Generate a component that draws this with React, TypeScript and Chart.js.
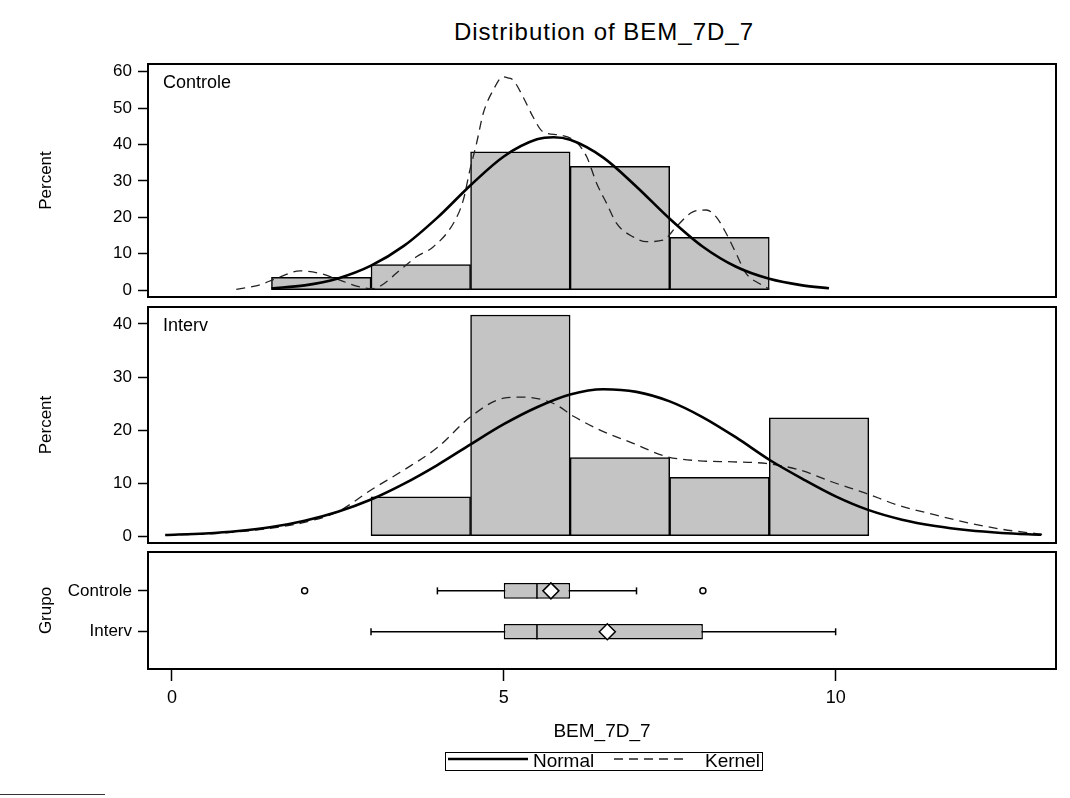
import { useEffect, useRef } from 'react';
import { Chart, registerables } from 'chart.js';

Chart.register(...registerables);

const FONT = "'Liberation Sans', Arial, sans-serif";
const FILL = '#c4c4c4';

// shared x axis (BEM_7D_7)
const X_MIN = -0.36;
const X_MAX = 13.32;
const X_TICKS = [0, 5, 10];

// Controle histogram: bin midpoints and percents
const CTRL_MID = [2.25, 3.75, 5.25, 6.75, 8.25];
const CTRL_PCT = [3.5, 7.0, 38.0, 34.0, 14.5];
const CTRL_TICKS = [0, 10, 20, 30, 40, 50, 60];

const CTRL_NORMAL_X = [1.5, 2.0, 2.5, 3.0, 3.5, 4.0, 4.5, 5.0, 5.5, 5.75, 6.0, 6.5, 7.0, 7.5, 8.0, 8.5, 9.0, 9.5, 9.9];
const CTRL_NORMAL_PCT = [0.5, 1.3, 3.2, 6.7, 12.2, 19.9, 28.8, 36.7, 41.4, 42.0, 41.3, 36.4, 28.4, 19.6, 11.9, 6.4, 3.1, 1.3, 0.5];

const CTRL_KERNEL_X = [0.97, 1.3, 1.6, 1.93, 2.25, 2.55, 2.8, 3.03, 3.2, 3.38, 3.69, 3.94, 4.24, 4.39, 4.49, 4.59, 4.69, 4.84, 4.99, 5.06, 5.14, 5.29, 5.44, 5.59, 5.84, 6.09, 6.25, 6.4, 6.55, 6.7, 6.95, 7.15, 7.4, 7.6, 7.85, 8.05, 8.2, 8.35, 8.5, 8.65, 8.85, 9.0];
const CTRL_KERNEL_PCT = [0.2, 1.3, 3.4, 5.3, 4.5, 2.6, 1.0, 0.4, 1.8, 4.6, 9.2, 11.9, 18.3, 24.7, 33.0, 40.3, 48.5, 54.9, 58.6, 58.3, 57.7, 53.1, 47.6, 43.5, 42.6, 40.7, 36.6, 29.3, 23.8, 18.3, 14.6, 13.3, 13.7, 17.4, 21.5, 22.0, 20.1, 15.6, 10.1, 4.6, 1.8, 0.3];

// Interv histogram
const INTERV_MID = [3.75, 5.25, 6.75, 8.25, 9.75];
const INTERV_PCT = [7.4, 41.7, 14.8, 11.1, 22.3];
const INTERV_TICKS = [0, 10, 20, 30, 40];

const INTERV_NORMAL_X = [-0.1, 0.5, 1.0, 1.5, 2.0, 2.5, 3.0, 3.5, 4.0, 4.5, 5.0, 5.5, 6.0, 6.5, 7.0, 7.5, 8.0, 8.5, 9.0, 9.5, 10.0, 10.5, 11.0, 11.5, 12.0, 12.5, 13.1];
const INTERV_NORMAL_PCT = [0.2, 0.5, 0.96, 1.7, 2.9, 4.6, 6.9, 9.9, 13.4, 17.3, 21.1, 24.3, 26.7, 27.7, 27.2, 25.4, 22.4, 18.6, 14.4, 10.8, 7.5, 4.9, 3.1, 1.9, 1.1, 0.6, 0.25];

const INTERV_KERNEL_X = [-0.1, 0.5, 1.0, 1.5, 2.0, 2.5, 3.0, 3.5, 4.0, 4.5, 5.0, 5.3, 5.75, 6.05, 6.45, 6.95, 7.45, 7.95, 8.45, 8.95, 9.45, 9.95, 10.45, 10.95, 11.5, 12.0, 12.5, 13.0, 13.2];
const INTERV_KERNEL_PCT = [0.2, 0.4, 0.8, 1.5, 2.6, 4.6, 8.7, 12.5, 16.7, 22.5, 26.0, 26.2, 25.0, 22.6, 20.0, 17.5, 15.0, 14.2, 14.0, 13.7, 12.5, 10.2, 8.1, 5.8, 4.0, 2.5, 1.3, 0.5, 0.2];

// box plot statistics per group
const GROUPS = ['Controle', 'Interv'];
const WHISK_LO = [4, 3];
const Q1 = [5, 5];
const MEDIAN = [5.5, 5.5];
const MEAN = [5.71, 6.56];
const Q3 = [6, 8];
const WHISK_HI = [7, 10];
const OUTLIER_X = [2, 8];
const OUTLIER_GROUP = [0, 0];

const pts = (xs: number[], ys: number[]) => xs.map((x, i) => ({ x, y: ys[i] }));

function frame(label?: string) {
  return {
    id: 'panelFrame',
    afterDatasetsDraw(chart: any) {
      const { ctx, chartArea: a } = chart;
      ctx.save();
      ctx.strokeStyle = '#000';
      ctx.lineWidth = 2;
      ctx.strokeRect(a.left, a.top, a.right - a.left, a.bottom - a.top);
      if (label) {
        ctx.fillStyle = '#000';
        ctx.font = `18px ${FONT}`;
        ctx.textBaseline = 'top';
        ctx.textAlign = 'left';
        ctx.fillText(label, a.left + 15, a.top + 10);
      }
      ctx.restore();
    },
  };
}

const setTicks = (values: number[]) => (s: any) => {
  s.ticks = values.map((v) => ({ value: v }));
};

const PAD_L = 32;
const AXIS_W = 148 - PAD_L;
const PAD_R = 14;

function yAxis(min: number, max: number, ticks: number[], title: string, extra: any = {}) {
  return {
    type: 'linear',
    min,
    max,
    offset: false,
    reverse: !!extra.reverse,
    afterBuildTicks: setTicks(ticks),
    afterFit: (s: any) => {
      s.width = AXIS_W;
    },
    grid: { offset: false, drawOnChartArea: false, drawTicks: true, tickLength: 10, tickWidth: 1.5, tickColor: '#000' },
    border: { display: false },
    ticks: { color: '#000', font: { family: FONT, size: 17 }, padding: 6, ...(extra.ticks || {}) },
    title: { display: true, text: title, color: '#000', font: { family: FONT, size: 17 } },
  };
}

function xAxis(visible: boolean) {
  return {
    type: 'linear',
    min: X_MIN,
    max: X_MAX,
    offset: false,
    display: visible,
    afterBuildTicks: setTicks(X_TICKS),
    afterFit: (s: any) => {
      s.height = visible ? 74 : 0;
    },
    grid: { drawOnChartArea: false, drawTicks: true, tickLength: 12, tickWidth: 1.5, tickColor: '#000', offset: false },
    border: { display: false },
    ticks: { color: '#000', font: { family: FONT, size: 18 }, padding: 6 },
    title: { display: true, text: 'BEM_7D_7', color: '#000', font: { family: FONT, size: 19 }, padding: { top: 0, bottom: 0 } },
  };
}

const baseOptions = (padTop: number, padBottom: number) => ({
  responsive: false,
  animation: false as const,
  events: [] as any[],
  layout: { padding: { left: PAD_L, right: PAD_R, top: padTop, bottom: padBottom } },
  plugins: { legend: { display: false }, tooltip: { enabled: false }, title: { display: false } },
});

function histPanel(canvas: HTMLCanvasElement, opts: any) {
  return new Chart(canvas, {
    type: 'bar',
    data: {
      datasets: [
        {
          type: 'line',
          data: pts(opts.normalX, opts.normalY),
          borderColor: '#000',
          borderWidth: 2.6,
          pointRadius: 0,
          cubicInterpolationMode: 'monotone',
          order: 0,
        },
        {
          type: 'line',
          data: pts(opts.kernelX, opts.kernelY),
          borderColor: '#222',
          borderWidth: 1.3,
          borderDash: [9, 6],
          pointRadius: 0,
          cubicInterpolationMode: 'monotone',
          order: 0,
        },
        {
          type: 'bar',
          data: pts(opts.mid, opts.pct),
          backgroundColor: FILL,
          borderColor: '#000',
          borderWidth: 1.5,
          borderSkipped: false,
          barPercentage: 1,
          categoryPercentage: 1,
          order: 1,
        },
      ],
    } as any,
    options: {
      ...baseOptions(opts.top, 798 - opts.bottom),
      scales: {
        x: xAxis(false),
        y: yAxis(opts.min, opts.max, opts.ticks, 'Percent'),
      },
    } as any,
    plugins: [frame(opts.label)],
  });
}

function boxPanel(canvas: HTMLCanvasElement) {
  const idx = GROUPS.map((_, i) => i);
  const ends = [
    ...idx.map((i) => ({ x: WHISK_LO[i], y: i })),
    ...idx.map((i) => ({ x: WHISK_HI[i], y: i })),
  ];
  return new Chart(canvas, {
    type: 'bar',
    data: {
      datasets: [
        ...idx.map((i) => ({
          type: 'line',
          data: [
            { x: WHISK_LO[i], y: i },
            { x: WHISK_HI[i], y: i },
          ],
          borderColor: '#000',
          borderWidth: 1.5,
          pointRadius: 0,
          order: 3,
        })),
        {
          type: 'bar',
          indexAxis: 'y',
          data: idx.map((i) => ({ y: i, x: [Q1[i], Q3[i]] })),
          backgroundColor: FILL,
          borderColor: '#000',
          borderWidth: 1.5,
          borderSkipped: false,
          barPercentage: 0.383,
          categoryPercentage: 1,
          order: 2,
        },
        {
          type: 'line',
          showLine: false,
          data: idx.map((i) => ({ x: MEDIAN[i], y: i })),
          pointStyle: 'line',
          pointRotation: 90,
          pointRadius: 7.8,
          pointBorderColor: '#000',
          pointBorderWidth: 1.5,
          order: 1,
        },
        {
          type: 'line',
          showLine: false,
          data: ends,
          pointStyle: 'line',
          pointRotation: 90,
          pointRadius: 3.5,
          pointBorderColor: '#000',
          pointBorderWidth: 1.5,
          order: 1,
        },
        {
          type: 'line',
          showLine: false,
          data: idx.map((i) => ({ x: MEAN[i], y: i })),
          pointStyle: 'rectRot',
          pointRadius: 8,
          pointBackgroundColor: '#fff',
          pointBorderColor: '#000',
          pointBorderWidth: 1.5,
          order: 0,
        },
        {
          type: 'line',
          showLine: false,
          data: OUTLIER_X.map((x, i) => ({ x, y: OUTLIER_GROUP[i] })),
          pointStyle: 'circle',
          pointRadius: 3,
          pointBackgroundColor: '#fff',
          pointBorderColor: '#000',
          pointBorderWidth: 1.5,
          order: 0,
        },
      ],
    } as any,
    options: {
      ...baseOptions(552, 55),
      scales: {
        x: xAxis(true),
        y: yAxis(-0.95, 1.91, idx, 'Grupo', {
          reverse: true,
          ticks: { callback: (v: number) => GROUPS[v] ?? '' },
        }),
      },
    } as any,
    plugins: [frame()],
  });
}

const canvasStyle: any = { position: 'absolute', left: 0, top: 0 };

export default function App() {
  const topRef = useRef<HTMLCanvasElement>(null);
  const midRef = useRef<HTMLCanvasElement>(null);
  const boxRef = useRef<HTMLCanvasElement>(null);

  useEffect(() => {
    const charts = [
      histPanel(topRef.current!, {
        label: 'Controle',
        mid: CTRL_MID,
        pct: CTRL_PCT,
        normalX: CTRL_NORMAL_X,
        normalY: CTRL_NORMAL_PCT,
        kernelX: CTRL_KERNEL_X,
        kernelY: CTRL_KERNEL_PCT,
        min: -1.9,
        max: 62.1,
        ticks: CTRL_TICKS,
        top: 64,
        bottom: 297,
      }),
      histPanel(midRef.current!, {
        label: 'Interv',
        mid: INTERV_MID,
        pct: INTERV_PCT,
        normalX: INTERV_NORMAL_X,
        normalY: INTERV_NORMAL_PCT,
        kernelX: INTERV_KERNEL_X,
        kernelY: INTERV_KERNEL_PCT,
        min: -1.3,
        max: 43.2,
        ticks: INTERV_TICKS,
        top: 307,
        bottom: 543,
      }),
      boxPanel(boxRef.current!),
    ];
    return () => charts.forEach((c) => c.destroy());
  }, []);

  return (
    <div style={{ position: 'absolute', left: 0, top: 0, width: 1070, height: 798, background: '#fff', fontFamily: FONT, color: '#000' }}>
      <div style={{ position: 'absolute', left: 304, top: 18, width: 600, textAlign: 'center', fontSize: 24, lineHeight: '28px', letterSpacing: 1 }}>
        Distribution of BEM_7D_7
      </div>
      <canvas ref={topRef} width={1070} height={798} style={canvasStyle} />
      <canvas ref={midRef} width={1070} height={798} style={canvasStyle} />
      <canvas ref={boxRef} width={1070} height={798} style={canvasStyle} />
      <div
        style={{
          position: 'absolute',
          left: 445,
          top: 752,
          width: 318,
          height: 19,
          border: '1px solid #000',
          boxSizing: 'border-box',
          fontSize: 19,
          lineHeight: '19px',
        }}
      >
        <svg width={316} height={17} style={{ position: 'absolute', left: 0, top: 0 }}>
          <line x1={2} y1={6} x2={82} y2={6} stroke="#000" strokeWidth={2.6} />
          <line x1={168} y1={6} x2={242} y2={6} stroke="#222" strokeWidth={1.3} strokeDasharray="9 6" />
        </svg>
        <span style={{ position: 'absolute', left: 87, top: -2 }}>Normal</span>
        <span style={{ position: 'absolute', left: 259, top: -2 }}>Kernel</span>
      </div>
      <div style={{ position: 'absolute', left: 0, top: 794, width: 105, height: 1, background: '#333' }} />
    </div>
  );
}
